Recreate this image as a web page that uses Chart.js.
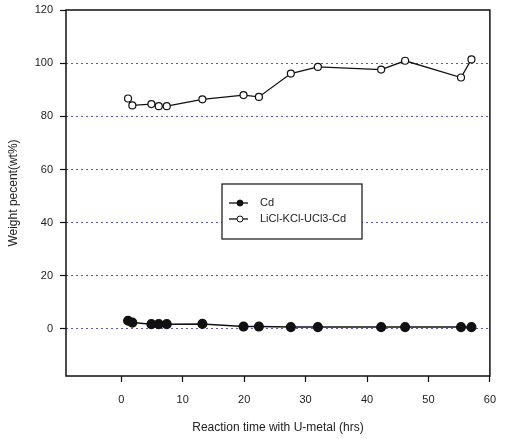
<!DOCTYPE html>
<html lang="en">
<head>
  <meta charset="UTF-8">
  <title>Weight percent vs reaction time</title>
  <script src="https://cdn.jsdelivr.net/npm/chart.js"></script>
  <style>
    body { margin: 0; background: #fff; }
    #wrap { width: 507px; height: 439px; }
  </style>
</head>
<body>
  <div id="wrap"><canvas id="chart"></canvas></div>
  <script>
    // data
    const times = [1.1, 1.8, 4.9, 6.1, 7.4, 13.2, 19.9, 22.4, 27.6, 32.0, 42.3, 46.2, 55.3, 57.0];
    const cdValues = [3.1, 2.4, 1.8, 1.8, 1.8, 1.9, 0.9, 0.9, 0.7, 0.7, 0.7, 0.7, 0.7, 0.7];
    const saltValues = [86.7, 84.1, 84.6, 83.8, 83.8, 86.4, 88.0, 87.3, 96.1, 98.6, 97.6, 100.9, 94.6, 101.4];
    const seriesNames = ['Cd', 'LiCl-KCl-UCl3-Cd'];
    const xTicks = [0, 10, 20, 30, 40, 50, 60];
    const yTicks = [0, 20, 40, 60, 80, 100, 120];

    const toPoints = (xs, ys) => xs.map((x, i) => ({ x: x, y: ys[i] }));

    // frame around the plot + legend box inside it
    const frameAndLegend = {
      id: 'frameAndLegend',
      afterDraw(chart) {
        const { ctx, chartArea: a } = chart;
        ctx.save();
        ctx.strokeStyle = '#111';
        ctx.lineWidth = 1.5;
        ctx.strokeRect(a.left, a.top, a.right - a.left, a.bottom - a.top);

        // legend
        const bx = 222, by = 184, bw = 140, bh = 55;
        ctx.fillStyle = '#fff';
        ctx.fillRect(bx, by, bw, bh);
        ctx.lineWidth = 1.2;
        ctx.strokeRect(bx, by, bw, bh);
        ctx.font = '11px "Liberation Sans", Arial, sans-serif';
        ctx.textBaseline = 'middle';
        chart.data.datasets.forEach((ds, i) => {
          const y = by + 19 + i * 16;
          ctx.strokeStyle = '#111';
          ctx.lineWidth = 1.3;
          ctx.beginPath();
          ctx.moveTo(bx + 7, y);
          ctx.lineTo(bx + 26, y);
          ctx.stroke();
          ctx.beginPath();
          ctx.arc(bx + 18, y, 3, 0, Math.PI * 2);
          ctx.fillStyle = ds.pointBackgroundColor;
          ctx.fill();
          ctx.lineWidth = 1;
          ctx.stroke();
          ctx.fillStyle = '#222';
          ctx.fillText(ds.label, bx + 38, y);
        });
        ctx.restore();
      }
    };

    new Chart(document.getElementById('chart'), {
      type: 'scatter',
      data: {
        datasets: [{
          label: seriesNames[0],
          data: toPoints(times, cdValues),
          showLine: true,
          borderColor: '#111',
          borderWidth: 1.5,
          pointRadius: 4.3,
          pointBackgroundColor: '#111',
          pointBorderColor: '#111'
        }, {
          label: seriesNames[1],
          data: toPoints(times, saltValues),
          showLine: true,
          borderColor: '#111',
          borderWidth: 1.3,
          pointRadius: 3.5,
          pointBorderWidth: 1.2,
          pointBackgroundColor: '#fff',
          pointBorderColor: '#111'
        }]
      },
      options: {
        responsive: true,
        maintainAspectRatio: false,
        animation: false,
        layout: { padding: { top: 10, right: 7, left: 0, bottom: 0 } },
        plugins: {
          legend: { display: false },
          tooltip: { enabled: false }
        },
        scales: {
          x: {
            type: 'linear',
            min: -9,
            max: 60,
            afterBuildTicks: s => { s.ticks = xTicks.map(v => ({ value: v })); },
            afterFit: s => { s.height = 63; },
            border: { display: false },
            grid: {
              drawOnChartArea: false,
              tickLength: 6,
              tickColor: '#111',
              tickWidth: 1.2
            },
            ticks: {
              padding: 11,
              color: '#222',
              font: { family: '"Liberation Sans", Arial, sans-serif', size: 11 }
            },
            title: {
              display: true,
              text: 'Reaction time with U-metal (hrs)',
              color: '#222',
              font: { family: '"Liberation Sans", Arial, sans-serif', size: 12 },
              padding: { top: 0, bottom: 4 }
            }
          },
          y: {
            type: 'linear',
            min: -17.7,
            max: 120,
            afterBuildTicks: s => { s.ticks = yTicks.map(v => ({ value: v })); },
            afterFit: s => { s.width = 66; s.paddingTop = 0; s.paddingBottom = 0; },
            border: { display: false, dash: [2, 3] },
            grid: {
              color: ctx => (ctx.tick && ctx.tick.value <= 100) ? '#5a5ab0' : 'rgba(0,0,0,0)',
              lineWidth: 1,
              tickLength: 6,
              tickColor: '#111',
              tickWidth: 1.2,
              tickBorderDash: []
            },
            ticks: {
              padding: 7,
              color: '#222',
              font: { family: '"Liberation Sans", Arial, sans-serif', size: 11 }
            },
            title: {
              display: true,
              text: 'Weight pecent(wt%)',
              color: '#222',
              font: { family: '"Liberation Sans", Arial, sans-serif', size: 12 },
              padding: { top: 6, bottom: 0 }
            }
          }
        }
      },
      plugins: [frameAndLegend]
    });
  </script>
</body>
</html>
